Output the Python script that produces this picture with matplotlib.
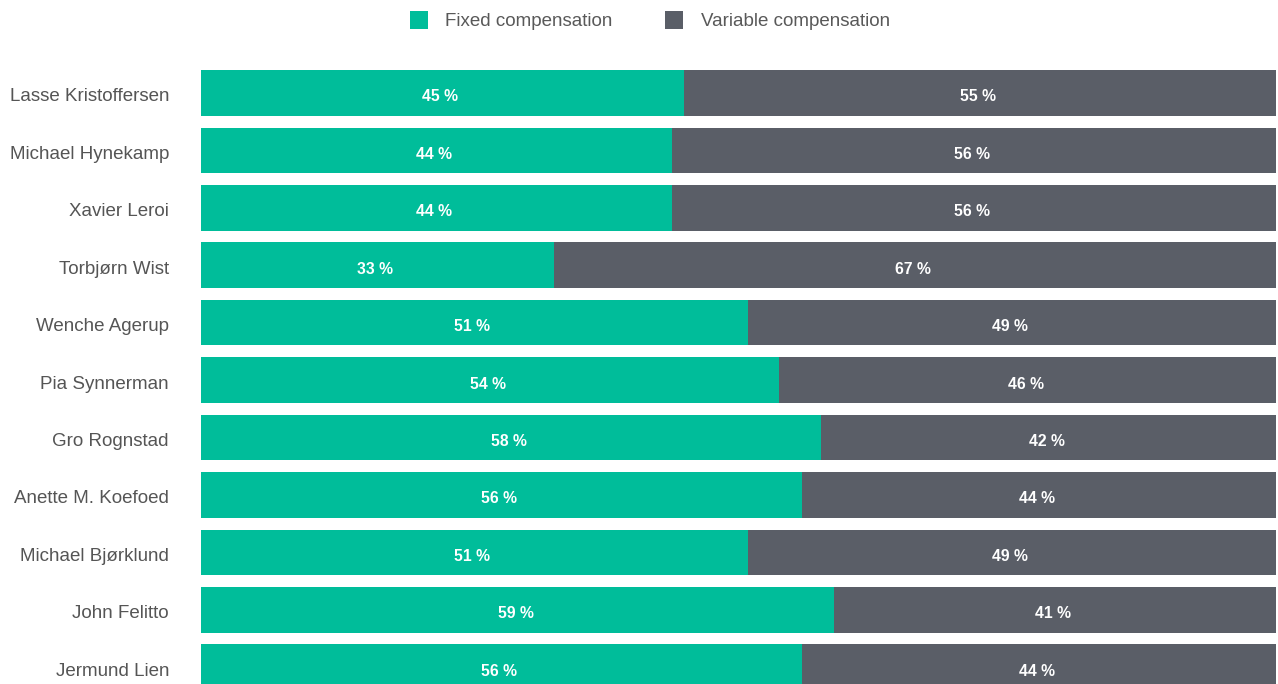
import matplotlib
matplotlib.use("Agg")
import matplotlib.pyplot as plt
from matplotlib.patches import Rectangle

names = ["Lasse Kristoffersen", "Michael Hynekamp", "Xavier Leroi", "Torbjørn Wist",
         "Wenche Agerup", "Pia Synnerman", "Gro Rognstad", "Anette M. Koefoed",
         "Michael Bjørklund", "John Felitto", "Jermund Lien"]
fixed = [44.9, 43.8, 43.8, 32.8, 50.9, 53.8, 57.7, 55.9, 50.9, 58.9, 55.9]
variable = [55.1, 56.2, 56.2, 67.2, 49.1, 46.2, 42.3, 44.1, 49.1, 41.1, 44.1]
fixed_labels = [45, 44, 44, 33, 51, 54, 58, 56, 51, 59, 56]
variable_labels = [55, 56, 56, 67, 49, 46, 42, 44, 49, 41, 44]
series_labels = ["Fixed compensation", "Variable compensation"]

GREEN = "#00BD9A"
GREY = "#5A5E67"
FONT = "Liberation Sans"

W, H = 1278, 684
fig = plt.figure(figsize=(W / 100, H / 100), dpi=100)
fig.patch.set_facecolor("white")

top_px, bot_px = 40, 684
left_px, right_px = 201, 1276
ax = fig.add_axes([left_px / W, 0, (right_px - left_px) / W, (bot_px - top_px) / H])

c0, step = 92.9, 57.43
ymin = (top_px - c0) / step
ymax = (bot_px - c0) / step

ys = list(range(len(names)))
bh = 0.795
ax.barh(ys, fixed, height=bh, color=GREEN, linewidth=0)
ax.barh(ys, variable, left=fixed, height=bh, color=GREY, linewidth=0)

ax.set_xlim(0, 100)
ax.set_ylim(ymax, ymin)
ax.axis("off")

off = 0.07
for i, (f, v) in enumerate(zip(fixed, variable)):
    ax.text(f / 2 - 0.2, i + off, f"{fixed_labels[i]} %", ha="center", va="center", color="white",
            fontsize=11.3, fontweight="bold", family=FONT)
    ax.text(f + v / 2 - 0.2, i + off, f"{variable_labels[i]} %", ha="center", va="center", color="white",
            fontsize=11.3, fontweight="bold", family=FONT)
    ax.text(-32 / (right_px - left_px) * 100, i + off, names[i], ha="right", va="center",
            color="#555555", fontsize=13.5, family=FONT, clip_on=False)

# legend
leg_y = 1 - 21 / H
for x0, col, lab, tx in [(410, GREEN, series_labels[0], 445), (665, GREY, series_labels[1], 701)]:
    fig.patches.append(Rectangle((x0 / W, 1 - 29 / H), 18 / W, 18 / H, transform=fig.transFigure,
                                 facecolor=col, edgecolor="none"))
    fig.text(tx / W, leg_y, lab, ha="left", va="center", color="#595959", fontsize=13.5, family=FONT)

fig.savefig("out.png", dpi=100)
